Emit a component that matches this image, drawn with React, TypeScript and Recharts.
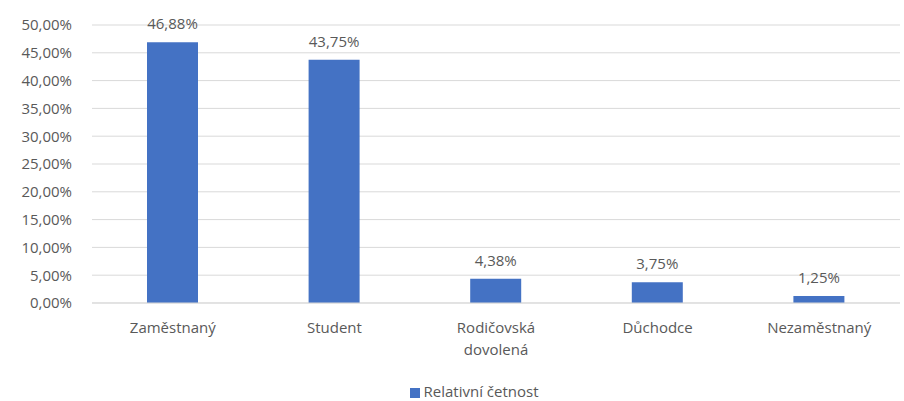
import React from "react";
import { BarChart, Bar, XAxis, YAxis, CartesianGrid, Legend, LabelList, Text } from "recharts";

const categories = ["Zaměstnaný", "Student", "Rodičovská dovolená", "Důchodce", "Nezaměstnaný"];
const relativeValues = [46.88, 43.75, 4.38, 3.75, 1.25];
const yTicks = [0, 5, 10, 15, 20, 25, 30, 35, 40, 45, 50];

const data = categories.map((name, i) => ({ name, value: relativeValues[i] }));

const FONT = "'Open Sans', sans-serif";
const TEXT = "#595959";
const FS = 15;

const pct = (v: number) => `${v.toFixed(2).replace(".", ",")}%`;

function XTick(props: any) {
  const { x, y, payload } = props;
  return (
    <Text
      x={x}
      y={y}
      width={110}
      textAnchor="middle"
      verticalAnchor="start"
      lineHeight={22}
      fill={TEXT}
      style={{ fontSize: FS, fontFamily: FONT }}
    >
      {payload.value}
    </Text>
  );
}

export default function App() {
  return (
    <div style={{ position: "fixed", left: 0, top: 0, width: 904, height: 401, background: "#fff" }}>
      <BarChart
        width={904}
        height={401}
        data={data}
        margin={{ top: 25, right: 4, left: 0, bottom: 0 }}
        barSize={51}
      >
        <CartesianGrid vertical={false} stroke="#d9d9d9" />
        <XAxis
          dataKey="name"
          axisLine={{ stroke: "#d9d9d9" }}
          tickLine={false}
          tickSize={0}
          tickMargin={19}
          height={78}
          interval={0}
          tick={<XTick />}
        />
        <YAxis
          width={92}
          domain={[0, 50]}
          ticks={yTicks}
          tickFormatter={pct}
          axisLine={false}
          tickLine={false}
          tickSize={0}
          tickMargin={20}
          tick={{ fill: TEXT, fontSize: FS, fontFamily: FONT }}
        />
        <Legend
          verticalAlign="bottom"
          height={20}
          iconType="square"
          iconSize={10}
          wrapperStyle={{ paddingLeft: 58, boxSizing: "border-box" }}
          formatter={(v) => <span style={{ color: TEXT, fontSize: FS, fontFamily: FONT }}>{v}</span>}
        />
        <Bar dataKey="value" name="Relativní četnost" fill="#4472c4" isAnimationActive={false}>
          <LabelList
            dataKey="value"
            position="top"
            offset={13}
            formatter={(v: any) => pct(Number(v))}
            style={{ fill: TEXT, fontSize: FS, fontFamily: FONT }}
          />
        </Bar>
      </BarChart>
    </div>
  );
}
